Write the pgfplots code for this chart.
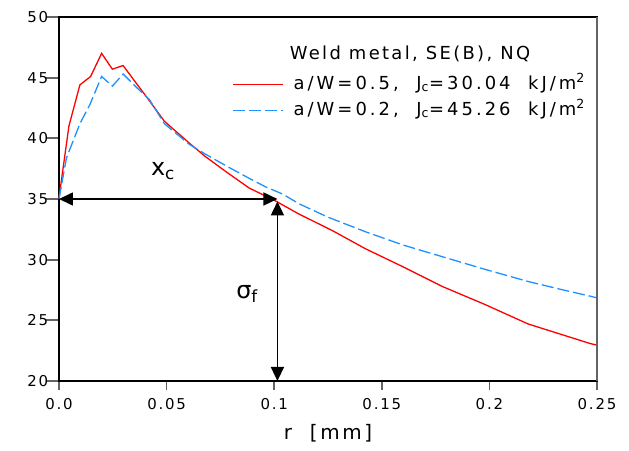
\documentclass[border=0pt]{standalone}
\usepackage{fontspec}
\setmainfont{DejaVu Sans}[LetterSpace=13]
\newfontfamily\tickfont{DejaVu Sans}[LetterSpace=12]
\newfontfamily\legfont{DejaVu Sans}[LetterSpace=17]
\usepackage{pgfplots}
\pgfplotsset{compat=1.18}
\usetikzlibrary{arrows.meta}
\definecolor{myred}{RGB}{255,0,0}
\definecolor{myblue}{RGB}{30,144,255}
\definecolor{tickgray}{RGB}{100,100,100}
\begin{document}
\begin{tikzpicture}
\begin{axis}[
  scale only axis, clip=false,
  width=538bp, height=364bp,
  xmin=0, xmax=0.25, ymin=20, ymax=50,
  xtick={0,0.05,0.1,0.15,0.2,0.25},
  xticklabels={0.0,0.05,0.1,0.15,0.2,0.25},
  ytick={20,25,30,35,40,45,50},
  yticklabels={20,25,30,35,40,45,50},
  tick align=outside, tick pos=left,
  xtick style={/pgfplots/major tick length=9bp},
  ytick style={/pgfplots/major tick length=13bp},
  every tick/.style={tickgray, line width=1.7pt},
  tick label style={font=\tickfont\fontsize{15}{16}\selectfont},
  xticklabel style={yshift=-10bp},
  yticklabel style={xshift=-3bp},
  xlabel={r\ \ [mm]},
  xlabel style={font=\fontsize{20}{22}\selectfont, yshift=-7bp},
  axis line style={line width=1.2pt, black},
  legend style={draw=none, fill=none, at={(axis cs:0.0804,45.15)}, anchor=north west,
    font=\legfont\fontsize{18}{19}\selectfont, row sep=9bp, inner sep=0bp,
    nodes={inner sep=0bp, text height=13bp, text depth=4bp},
    legend cell align=left},
  legend image code/.code={\draw[#1] (0bp,0bp) -- (50bp,0bp);},
]
\addplot[myred, line width=1.3pt] coordinates {
(0,35.1)(0.0046,41.0)(0.0097,44.4)(0.0147,45.1)(0.0198,47.0)(0.0248,45.7)(0.0298,46.0)
(0.0344,44.9)(0.042,43.1)(0.049,41.4)(0.0606,39.6)(0.068,38.5)(0.078,37.2)(0.0884,35.9)
(0.1,34.9)(0.1116,33.75)(0.127,32.4)(0.1424,30.9)(0.16,29.4)(0.178,27.8)(0.198,26.3)
(0.218,24.7)(0.2466,23.1)(0.25,22.95)};
\addlegendentry{\hspace{10bp}a/W=0.5,\ \ J\textsubscript{c}=30.04\ \ kJ/m\textsuperscript{2}}
\addplot[myblue, line width=1.3pt, dash pattern=on 12bp off 4bp] coordinates {
(0,35.0)(0.0035,38.4)(0.0097,41.2)(0.0144,42.8)(0.0198,45.1)(0.0248,44.3)(0.0298,45.3)
(0.036,44.2)(0.042,43.2)(0.049,41.2)(0.0606,39.5)(0.068,38.7)(0.078,37.7)(0.0884,36.7)
(0.096,36.0)(0.104,35.4)(0.1116,34.6)(0.125,33.5)(0.1424,32.3)(0.16,31.2)(0.178,30.25)
(0.198,29.2)(0.218,28.2)(0.232,27.6)(0.2466,27.0)(0.25,26.85)};
\addlegendentry{\hspace{10bp}a/W=0.2,\ \ J\textsubscript{c}=45.26\ \ kJ/m\textsuperscript{2}}
\node[font=\fontsize{18}{20}\selectfont] at (axis cs:0.1631,46.95) {Weld metal, SE(B), NQ};
\draw[black, line width=1.5pt] (axis cs:0,50) -- (axis cs:0.25,50);
\draw[tickgray, line width=2.5pt] (axis cs:0.25,20) -- (axis cs:0.25,50);
\draw[black, line width=1.6pt, {Triangle[length=14bp,width=13bp]}-{Triangle[length=14bp,width=13bp]}]
  (axis cs:0,35) -- (axis cs:0.1015,35);
\draw[black, line width=1.6pt, {Triangle[length=14bp,width=13bp]}-{Triangle[length=14bp,width=13bp]}]
  (axis cs:0.1015,34.8) -- (axis cs:0.1015,20);
\node[font=\fontsize{24}{26}\selectfont] at (axis cs:0.0483,37.3) {x\textsubscript{c}};
\node[font=\fontsize{24}{26}\selectfont] at (axis cs:0.0874,27.2) {σ\textsubscript{f}};
\end{axis}
\pgfresetboundingbox
\path (-59bp,-70bp) rectangle (570bp,381bp);
\end{tikzpicture}
\end{document}
